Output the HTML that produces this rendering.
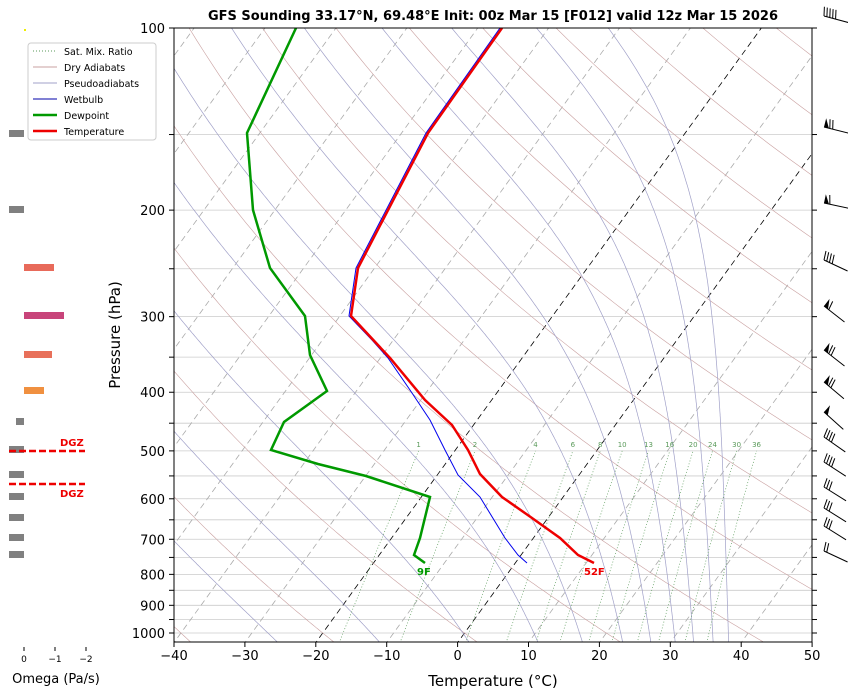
<!DOCTYPE html>
<html><head><meta charset="utf-8"><style>
body{margin:0;background:#fff;}
svg text{font-family:"DejaVu Sans","Liberation Sans",sans-serif;}
</style></head><body>
<svg id="s" width="848" height="694" xmlns="http://www.w3.org/2000/svg">
<defs><clipPath id="c"><rect x="174" y="28" width="638" height="614"/></clipPath></defs>
<g id="bg" clip-path="url(#c)"></g>
<g id="fg"></g>
</svg>
<script>
const NS="http://www.w3.org/2000/svg";
const bg=document.getElementById('bg'),fg=document.getElementById('fg');
function el(p,tag,a,txt){const e=document.createElementNS(NS,tag);for(const k in a)e.setAttribute(k,a[k]);if(txt!==undefined)e.textContent=txt;p.appendChild(e);return e;}
const Y=p=>28+605*Math.log10(p/100);
const K=0.725;
const X=(T,p)=>458+7.09*T+K*(642-Y(p));
function line(g,pts,st){el(g,'polyline',Object.assign({points:pts.map(q=>q[0].toFixed(1)+','+q[1].toFixed(1)).join(' '),fill:'none'},st));}
const ps=[100,150,200,250,300,350,400,450,500,550,600,650,700,750,800,850,900,950,1000];
ps.forEach(p=>el(bg,'line',{x1:174,x2:812,y1:Y(p),y2:Y(p),stroke:'#ccc','stroke-width':0.8}));
for(let T=-150;T<=50;T+=10){el(bg,'line',{x1:X(T,1050),y1:Y(1050),x2:X(T,90),y2:Y(90),stroke:(T==0||T==-20)?'#000':'#aaa','stroke-width':0.8,'stroke-dasharray':'6,4'});}
for(let th=-60;th<=300;th+=20){let pts=[];for(let p=1050;p>=95;p-=5){const T=(th+273.15)*Math.pow(p/1000,0.286)-273.15;pts.push([X(T,p),Y(p)]);}line(bg,pts,{stroke:'#c9a0a0','stroke-width':0.6});}
function es(T){return 6.112*Math.exp(17.67*T/(T+243.5));}
function gm(T,p){const Tk=T+273.15;const e=es(T);const r=0.622*e/(p-e);const L=2.5e6,Rd=287,cp=1004;const num=Rd*Tk+L*r;const den=cp+L*L*r*0.622/(Rd*Tk*Tk);return num/den/p;}
const p0=603;
[-75,-60,-45.4,-29.8,-15.4,-5.6,3.0,8.7,13.4,16.8,20.3,23].forEach(T0=>{
 let up=[],T=T0;for(let p=p0;p>=95;p-=2){up.push([X(T,p),Y(p)]);T-=gm(T,p)*2;}
 let dn=[];T=T0;for(let p=p0;p<=1060;p+=2){dn.push([X(T,p),Y(p)]);T+=gm(T,p)*2;}
 line(bg,dn.reverse().concat(up),{stroke:'#a0a0c8','stroke-width':0.7});
});
const ws=[1,2,4,6,8,10,13,16,20,24,30,36];
ws.forEach(w=>{let pts=[];for(let p=1050;p>=500;p-=10){const e=w*p/(622+w);const l=Math.log(e/6.112);const Td=243.5*l/(17.67-l);pts.push([X(Td,p),Y(p)]);}line(bg,pts,{stroke:'#5a9a5a','stroke-width':0.7,'stroke-dasharray':'1,2'});const q=pts[pts.length-1];el(bg,'text',{x:q[0],y:447,'font-size':7,fill:'#5a9a5a','text-anchor':'middle'},String(w));});
function P(s){return s.trim().split(/\s+/).map(v=>v.split(',').map(Number));}
line(bg,P("500,28 426,133 356,268 349,316 372,340 388,358 410,390 430,420 445,450 458,475 480,497 505,538 518,555 527,563"),{stroke:'#0000ee','stroke-width':1});
line(bg,P("296,28 247,133 253,210 270,268 305,316 310,355 327,391 284,422 271,450 318,464 366,476 430,497 420,538 414,555 425,563"),{stroke:'#009900','stroke-width':2.5});
line(bg,P("502,28 428,133 358,268 351,316 390,358 425,400 452,425 468,450 480,474 502,497 532,518 560,538 578,555 594,563"),{stroke:'#ee0000','stroke-width':2.5});
el(fg,'text',{x:417,y:575,'font-size':10,'font-weight':'bold',fill:'#009900'},'9F');
el(fg,'text',{x:584,y:575,'font-size':10,'font-weight':'bold',fill:'#ee0000'},'52F');
el(fg,'rect',{x:174,y:28,width:638,height:614,fill:'none',stroke:'#000','stroke-width':1});
for(let T=-40;T<=50;T+=10){const x=174+(T+40)*7.09;el(fg,'line',{x1:x,x2:x,y1:642,y2:647,stroke:'#000'});el(fg,'text',{x:x,y:660,'font-size':13,'text-anchor':'middle'},T<0?'\u2212'+(-T):String(T));}
ps.forEach(p=>{el(fg,'line',{x1:169,x2:174,y1:Y(p),y2:Y(p),stroke:'#000'});el(fg,'line',{x1:812,x2:817,y1:Y(p),y2:Y(p),stroke:'#000'});if(p%100==0){el(fg,'text',{x:165,y:Y(p)+5,'font-size':13,'text-anchor':'end'},String(p));}});
el(fg,'text',{x:493,y:686,'font-size':15,'text-anchor':'middle'},'Temperature (°C)');
el(fg,'text',{x:120,y:335,'font-size':15,'text-anchor':'middle',transform:'rotate(-90 120 335)'},'Pressure (hPa)');
el(fg,'text',{x:493,y:20,'font-size':13,'font-weight':'bold','text-anchor':'middle'},'GFS Sounding 33.17°N, 69.48°E Init: 00z Mar 15 [F012] valid 12z Mar 15 2026');
el(fg,'rect',{x:28,y:43,width:128,height:97,rx:3,fill:'#fff',stroke:'#ccc'});
const lg=[['Sat. Mix. Ratio','#5a9a5a',1,'1,2'],['Dry Adiabats','#c9a0a0',1,''],['Pseudoadiabats','#a0a0c8',1,''],['Wetbulb','#0000aa',1,''],['Dewpoint','#009900',2.5,''],['Temperature','#ee0000',2.5,'']];
lg.forEach((l,i)=>{const y=51+i*16;el(fg,'line',{x1:33,x2:57,y1:y,y2:y,stroke:l[1],'stroke-width':l[2],'stroke-dasharray':l[3]});el(fg,'text',{x:64,y:y+4,'font-size':9.5},l[0]);});
el(fg,'rect',{x:24,y:29,width:2,height:2,fill:'#ee0'});
const om=[[9,134,24,'#808080'],[9,210,24,'#808080'],[24,268,54,'#e86a5a'],[24,316,64,'#c8447a'],[24,355,52,'#e8705a'],[24,391,44,'#f09040'],[16,422,24,'#808080'],[9,450,24,'#808080'],[9,475,24,'#808080'],[9,497,24,'#808080'],[9,518,24,'#808080'],[9,538,24,'#808080'],[9,555,24,'#808080']];
om.forEach(o=>el(fg,'rect',{x:o[0],y:o[1]-4,width:o[2]-o[0],height:7,fill:o[3]}));
el(fg,'line',{x1:9,x2:85,y1:451,y2:451,stroke:'#ee0000','stroke-width':2.5,'stroke-dasharray':'7,3'});
el(fg,'line',{x1:9,x2:85,y1:484,y2:484,stroke:'#ee0000','stroke-width':2.5,'stroke-dasharray':'7,3'});
el(fg,'text',{x:60,y:446,'font-size':10,'font-weight':'bold',fill:'#ee0000'},'DGZ');
el(fg,'text',{x:60,y:497,'font-size':10,'font-weight':'bold',fill:'#ee0000'},'DGZ');
[[24,'0'],[55,'\u22121'],[86,'\u22122']].forEach(t=>{el(fg,'line',{x1:t[0],x2:t[0],y1:647,y2:651,stroke:'#000'});el(fg,'text',{x:t[0],y:662,'font-size':9,'text-anchor':'middle'},t[1]);});
el(fg,'text',{x:56,y:683,'font-size':13,'text-anchor':'middle'},'Omega (Pa/s)');
function barb(y,ang,nb,flag){const g=el(fg,'g',{transform:`translate(824,${y}) rotate(${ang})`});el(g,'line',{x1:0,y1:0,x2:26,y2:0,stroke:'#000','stroke-width':1});let x=0;if(flag){el(g,'polygon',{points:`0,0 5,0 0,-9`,fill:'#000'});x=6;}for(let i=0;i<nb;i++){el(g,'line',{x1:x+i*3,y1:0,x2:x+i*3-2,y2:-9,stroke:'#000','stroke-width':1});}}
barb(16,15,5,false);barb(127,14,2,true);barb(203,12,1,true);barb(260,25,4,false);
barb(306,38,1,true);barb(350,38,2,true);barb(382,40,2,true);barb(412,42,0,true);
barb(437,35,4,false);barb(462,33,4,false);barb(487,32,3,false);barb(508,32,3,false);barb(526,32,3,false);barb(551,25,2,false);
</script>
</body></html>
